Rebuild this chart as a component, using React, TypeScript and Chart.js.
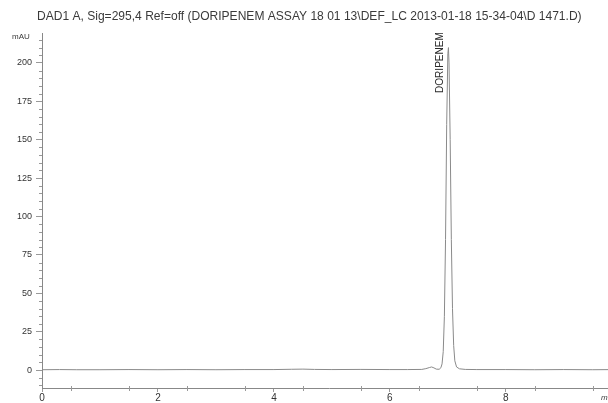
import React, { useEffect, useRef } from "react";
import { Chart, registerables } from "chart.js";

Chart.register(...registerables);

const TITLE =
  "DAD1 A, Sig=295,4 Ref=off (DORIPENEM ASSAY 18 01 13\\DEF_LC 2013-01-18 15-34-04\\D 1471.D)";
const Y_UNIT = "mAU";
const X_UNIT = "min";
const PEAK_NAME = "DORIPENEM";
const PEAK_TIME = 7.01;

const times = [
  0, 0.3, 0.6, 1.0, 1.5, 2.0, 2.5, 3.0, 3.5, 4.0, 4.3, 4.5, 4.7, 5.0, 5.5, 6.0,
  6.3, 6.55, 6.62, 6.68, 6.72, 6.76, 6.8, 6.85, 6.88, 6.9, 6.92, 6.94, 6.96,
  6.98, 7.0, 7.01, 7.02, 7.04, 7.06, 7.08, 7.1, 7.12, 7.15, 7.2, 7.3, 7.5, 8.0,
  8.5, 9.0, 9.5, 9.9,
];
const signal = [
  0.2, 0.3, 0.2, 0.2, 0.3, 0.2, 0.3, 0.2, 0.3, 0.3, 0.5, 0.6, 0.4, 0.3, 0.4, 0.3,
  0.3, 0.4, 0.9, 1.6, 2.0, 1.4, 0.6, 0.5, 1.5, 4, 12, 35, 85, 160, 206, 210, 200,
  150, 85, 40, 16, 6, 2, 0.8, 0.4, 0.3, 0.3, 0.2, 0.3, 0.2, 0.3,
];

const Y_MIN = -11.7;
const Y_MAX = 219.5;
const X_MIN = 0;
const X_MAX = 9.9;

export default function App() {
  const ref = useRef<HTMLCanvasElement | null>(null);

  useEffect(() => {
    if (!ref.current) return;
    const decor = {
      id: "decor",
      afterDraw(chart: any) {
        const ctx = chart.ctx;
        const xs = chart.scales.x;
        const ys = chart.scales.y;
        const area = chart.chartArea;
        ctx.save();
        // minor ticks
        ctx.strokeStyle = "#999";
        ctx.lineWidth = 1;
        ctx.beginPath();
        for (let v = -10; v <= Y_MAX; v += 5) {
          if (v % 25 === 0) continue;
          const py = Math.round(ys.getPixelForValue(v)) + 0.5;
          ctx.moveTo(area.left - 3, py);
          ctx.lineTo(area.left, py);
        }
        for (let v = 0.5; v <= X_MAX; v += 1) {
          const px = Math.round(xs.getPixelForValue(v)) + 0.5;
          ctx.moveTo(px, area.bottom - 2);
          ctx.lineTo(px, area.bottom + 3);
        }
        ctx.stroke();

        // title
        ctx.fillStyle = "#3a3a3a";
        ctx.textBaseline = "middle";
        ctx.textAlign = "left";
        ctx.font = "10px 'Liberation Sans', Arial, sans-serif";
        const w = ctx.measureText(TITLE).width;
        const size = (10 * 545) / w;
        ctx.font = `${size.toFixed(2)}px 'Liberation Sans', Arial, sans-serif`;
        ctx.fillText(TITLE, 37, 17);

        // units
        ctx.font = "8px 'Liberation Sans', Arial, sans-serif";
        ctx.textAlign = "left";
        ctx.fillText(Y_UNIT, 12, 37);
        ctx.font = "italic 8px 'Liberation Sans', Arial, sans-serif";
        ctx.fillText(X_UNIT, 601, 398);

        // peak label
        const px = xs.getPixelForValue(PEAK_TIME);
        ctx.translate(px - 8, 93);
        ctx.rotate(-Math.PI / 2);
        ctx.font = "9px 'Liberation Sans', Arial, sans-serif";
        const lw = ctx.measureText(PEAK_NAME).width;
        ctx.font = `${((9 * 61) / lw).toFixed(2)}px 'Liberation Sans', Arial, sans-serif`;
        ctx.textAlign = "left";
        ctx.fillStyle = "#2a2a2a";
        ctx.fillText(PEAK_NAME, 0, 0);
        ctx.restore();
      },
    };

    const chart = new Chart(ref.current, {
      type: "line",
      data: {
        datasets: [
          {
            data: times.map((t, i) => ({ x: t, y: signal[i] })),
            borderColor: "#8a8a8a",
            borderWidth: 1,
            pointRadius: 0,
            tension: 0,
            fill: false,
          },
        ],
      },
      options: {
        animation: false,
        responsive: false,
        maintainAspectRatio: false,
        layout: { padding: { top: 33, right: 24, left: 0, bottom: 0 } },
        plugins: {
          legend: { display: false },
          tooltip: { enabled: false },
          title: { display: false },
        },
        scales: {
          x: {
            type: "linear",
            min: X_MIN,
            max: X_MAX,
            afterFit: (s: any) => {
              s.height = 15;
            },
            ticks: {
              stepSize: 2,
              includeBounds: false,
              maxRotation: 0,
              padding: 0,
              color: "#333",
              font: { family: "'Liberation Sans', Arial, sans-serif", size: 10 },
            },
            grid: {
              display: true,
              drawOnChartArea: false,
              drawTicks: true,
              tickLength: 4,
              color: "#999",
            },
            border: { display: true, color: "#888", width: 1 },
          },
          y: {
            type: "linear",
            min: Y_MIN,
            max: Y_MAX,
            afterFit: (s: any) => {
              s.width = 42;
            },
            ticks: {
              stepSize: 25,
              includeBounds: false,
              padding: 4,
              color: "#333",
              font: { family: "'Liberation Sans', Arial, sans-serif", size: 9 },
            },
            grid: {
              display: true,
              drawOnChartArea: false,
              drawTicks: true,
              tickLength: 6,
              color: "#999",
            },
            border: { display: true, color: "#888", width: 1 },
          },
        },
      },
      plugins: [decor],
    });
    return () => chart.destroy();
  }, []);

  return (
    <div style={{ position: "fixed", left: 0, top: 0, width: 640, height: 403, background: "#fff" }}>
      <canvas ref={ref} width={640} height={403} style={{ width: 640, height: 403, display: "block" }} />
    </div>
  );
}
